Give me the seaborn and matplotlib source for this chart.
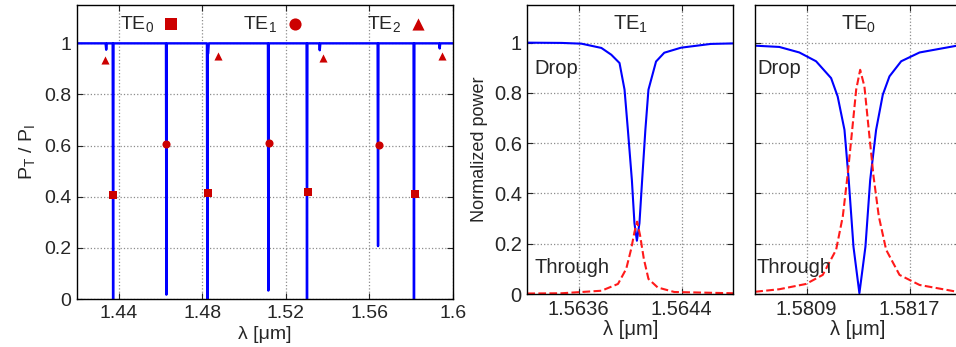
import matplotlib
matplotlib.use('Agg')
import matplotlib.pyplot as plt
import matplotlib.ticker as mticker
import seaborn as sns

# full spectrum (panel a): transmission with narrow resonance dips
spec_lam = [1.4200, 1.4337, 1.4340, 1.4343, 1.4371, 1.4373, 1.4375,
            1.4626, 1.4628, 1.4630, 1.4822, 1.4824, 1.4826, 1.4828, 1.4831,
            1.5114, 1.5116, 1.5118, 1.5299, 1.5301, 1.5303,
            1.5359, 1.5362, 1.5365, 1.5639, 1.5641, 1.5643,
            1.5811, 1.5813, 1.5815, 1.5933, 1.5936, 1.5939, 1.6000]
spec_P = [1.0, 1.0, 0.975, 1.0, 1.0, 0.0, 1.0,
          1.0, 0.017, 1.0, 1.0, 0.0, 0.96, 0.96, 1.0,
          1.0, 0.033, 1.0, 1.0, 0.0, 1.0,
          1.0, 0.973, 1.0, 1.0, 0.207, 1.0,
          1.0, 0.0, 1.0, 1.0, 0.98, 1.0, 1.0]

# mode markers
te0_lam = [1.4373, 1.4827, 1.5305, 1.5819]
te0_P = [0.406, 0.415, 0.419, 0.411]
te1_lam = [1.4628, 1.5119, 1.5647]
te1_P = [0.605, 0.609, 0.602]
te2_lam = [1.4334, 1.4873, 1.5376, 1.5945]
te2_P = [0.936, 0.949, 0.944, 0.952]

# zoom TE1
te1_drop_lam = [1.56320, 1.563466, 1.563621, 1.563776, 1.563853, 1.563917, 1.563956,
                1.563982, 1.564013, 1.564033, 1.564052, 1.564072, 1.564093, 1.564118,
                1.564142, 1.564201, 1.564265, 1.564395, 1.564627, 1.56480]
te1_drop_P = [1.0, 0.999, 0.996, 0.979, 0.952, 0.919, 0.813,
              0.653, 0.454, 0.282, 0.212, 0.282, 0.454, 0.653,
              0.813, 0.925, 0.96, 0.98, 0.995, 0.997]
te1_thr_lam = [1.56320, 1.563466, 1.563776, 1.563905, 1.563969, 1.564008, 1.564033,
               1.564054, 1.564077, 1.564106, 1.564142, 1.564214, 1.564343, 1.56480]
te1_thr_P = [0.002, 0.003, 0.013, 0.04, 0.1, 0.18, 0.246,
             0.288, 0.233, 0.14, 0.06, 0.026, 0.008, 0.003]

# zoom TE0
te0_drop_lam = [1.58050, 1.580687, 1.580843, 1.580973, 1.58109, 1.581141, 1.581194,
                1.581227, 1.581264, 1.58131, 1.581357, 1.581394, 1.58144, 1.581492,
                1.581544, 1.581635, 1.581778, 1.582058, 1.58210]
te0_drop_P = [0.988, 0.983, 0.961, 0.926, 0.859, 0.786, 0.653,
              0.454, 0.188, 0.003, 0.188, 0.454, 0.653, 0.793,
              0.866, 0.926, 0.961, 0.987, 0.988]
te0_thr_lam = [1.58050, 1.580687, 1.580895, 1.581025, 1.581129, 1.581181, 1.58122,
               1.581254, 1.581285, 1.581316, 1.581349, 1.581383, 1.58142, 1.581461,
               1.581518, 1.581622, 1.581778, 1.582058, 1.58210]
te0_thr_P = [0.009, 0.019, 0.04, 0.076, 0.176, 0.309, 0.481,
             0.653, 0.813, 0.892, 0.826, 0.653, 0.468, 0.309,
             0.176, 0.076, 0.036, 0.01, 0.009]

sns.set_style('ticks')
plt.rcParams['font.family'] = ['Liberation Sans', 'DejaVu Sans']
plt.rcParams['mathtext.default'] = 'regular'
plt.rcParams['xtick.direction'] = 'in'
plt.rcParams['ytick.direction'] = 'in'

BLUE = '#0000ff'
RED = '#cc0000'

fig = plt.figure(figsize=(9.56, 3.47), dpi=100)
ax1 = fig.add_axes([0.0805, 0.1383, 0.3934, 0.8473])
ax2 = fig.add_axes([0.5516, 0.1527, 0.2152, 0.833])
ax3 = fig.add_axes([0.7900, 0.1527, 0.2152, 0.833])


def style(ax, xticks, fs, ylabels=True, xpad=1):
    ax.set_ylim(0, 1.15)
    ax.set_xticks(xticks)
    ax.set_yticks([0, 0.2, 0.4, 0.6, 0.8, 1])
    ax.xaxis.set_major_formatter(mticker.FormatStrFormatter('%g'))
    ax.yaxis.set_major_formatter(mticker.FormatStrFormatter('%g'))
    if not ylabels:
        ax.set_yticklabels([])
    ax.tick_params(top=True, right=True, length=4, width=0.8, labelsize=fs, pad=4)
    ax.grid(True, linestyle=':', color='#8c8c8c', linewidth=0.9)
    for s in ax.spines.values():
        s.set_linewidth(1.0)
        s.set_color('black')
    ax.set_xlabel('λ [μm]', fontsize=fs, labelpad=xpad)


# panel a
sns.lineplot(x=spec_lam, y=spec_P, estimator=None, sort=False, color=BLUE,
             linewidth=1.7, ax=ax1)
sns.scatterplot(x=te0_lam, y=te0_P, marker='s', color=RED, s=32, linewidth=0,
                label='TE$_0$', ax=ax1, zorder=5)
sns.scatterplot(x=te1_lam, y=te1_P, marker='o', color=RED, s=34, linewidth=0,
                label='TE$_1$', ax=ax1, zorder=5)
sns.scatterplot(x=te2_lam, y=te2_P, marker='^', color=RED, s=34, linewidth=0,
                label='TE$_2$', ax=ax1, zorder=5)
ax1.set_xlim(1.42, 1.6)
style(ax1, [1.44, 1.48, 1.52, 1.56, 1.6], 14, xpad=3)
ax1.set_ylabel('P$_T$ / P$_I$', fontsize=14, labelpad=5)
ax1.legend(ncol=3, loc='center left', bbox_to_anchor=(0.114, 0.935),
           frameon=False, markerfirst=False, fontsize=14, markerscale=1.5,
           handlelength=1.0, handletextpad=0.4, columnspacing=3.2,
           borderpad=0, borderaxespad=0)

# panel b
sns.lineplot(x=te1_drop_lam, y=te1_drop_P, estimator=None, sort=False,
             color=BLUE, linewidth=1.5, ax=ax2)
sns.lineplot(x=te1_thr_lam, y=te1_thr_P, estimator=None, sort=False,
             color='#ff1a1a', linewidth=1.5, linestyle='--', dashes=(3.5, 2.5), ax=ax2)
ax2.set_xlim(1.5632, 1.5648)
style(ax2, [1.5636, 1.5644], 14.5)
ax2.set_ylabel('Normalized power', fontsize=13, labelpad=4)
ax2.text(0.5, 0.915, 'TE$_1$', transform=ax2.transAxes, ha='center',
         va='baseline', fontsize=14.5)
ax2.text(0.033, 0.78, 'Drop', transform=ax2.transAxes, ha='left',
         va='center', fontsize=14.5)
ax2.text(0.033, 0.09, 'Through', transform=ax2.transAxes, ha='left',
         va='center', fontsize=14.5)

# panel c
sns.lineplot(x=te0_drop_lam, y=te0_drop_P, estimator=None, sort=False,
             color=BLUE, linewidth=1.5, ax=ax3)
sns.lineplot(x=te0_thr_lam, y=te0_thr_P, estimator=None, sort=False,
             color='#ff1a1a', linewidth=1.5, linestyle='--', dashes=(3.5, 2.5), ax=ax3)
ax3.set_xlim(1.5805, 1.5821)
style(ax3, [1.5809, 1.5817], 14.5, ylabels=False)
ax3.text(0.5, 0.915, 'TE$_0$', transform=ax3.transAxes, ha='center',
         va='baseline', fontsize=14.5)
ax3.text(0.008, 0.78, 'Drop', transform=ax3.transAxes, ha='left',
         va='center', fontsize=14.5)
ax3.text(0.008, 0.09, 'Through', transform=ax3.transAxes, ha='left',
         va='center', fontsize=14.5)

fig.savefig('out.png', dpi=100)
